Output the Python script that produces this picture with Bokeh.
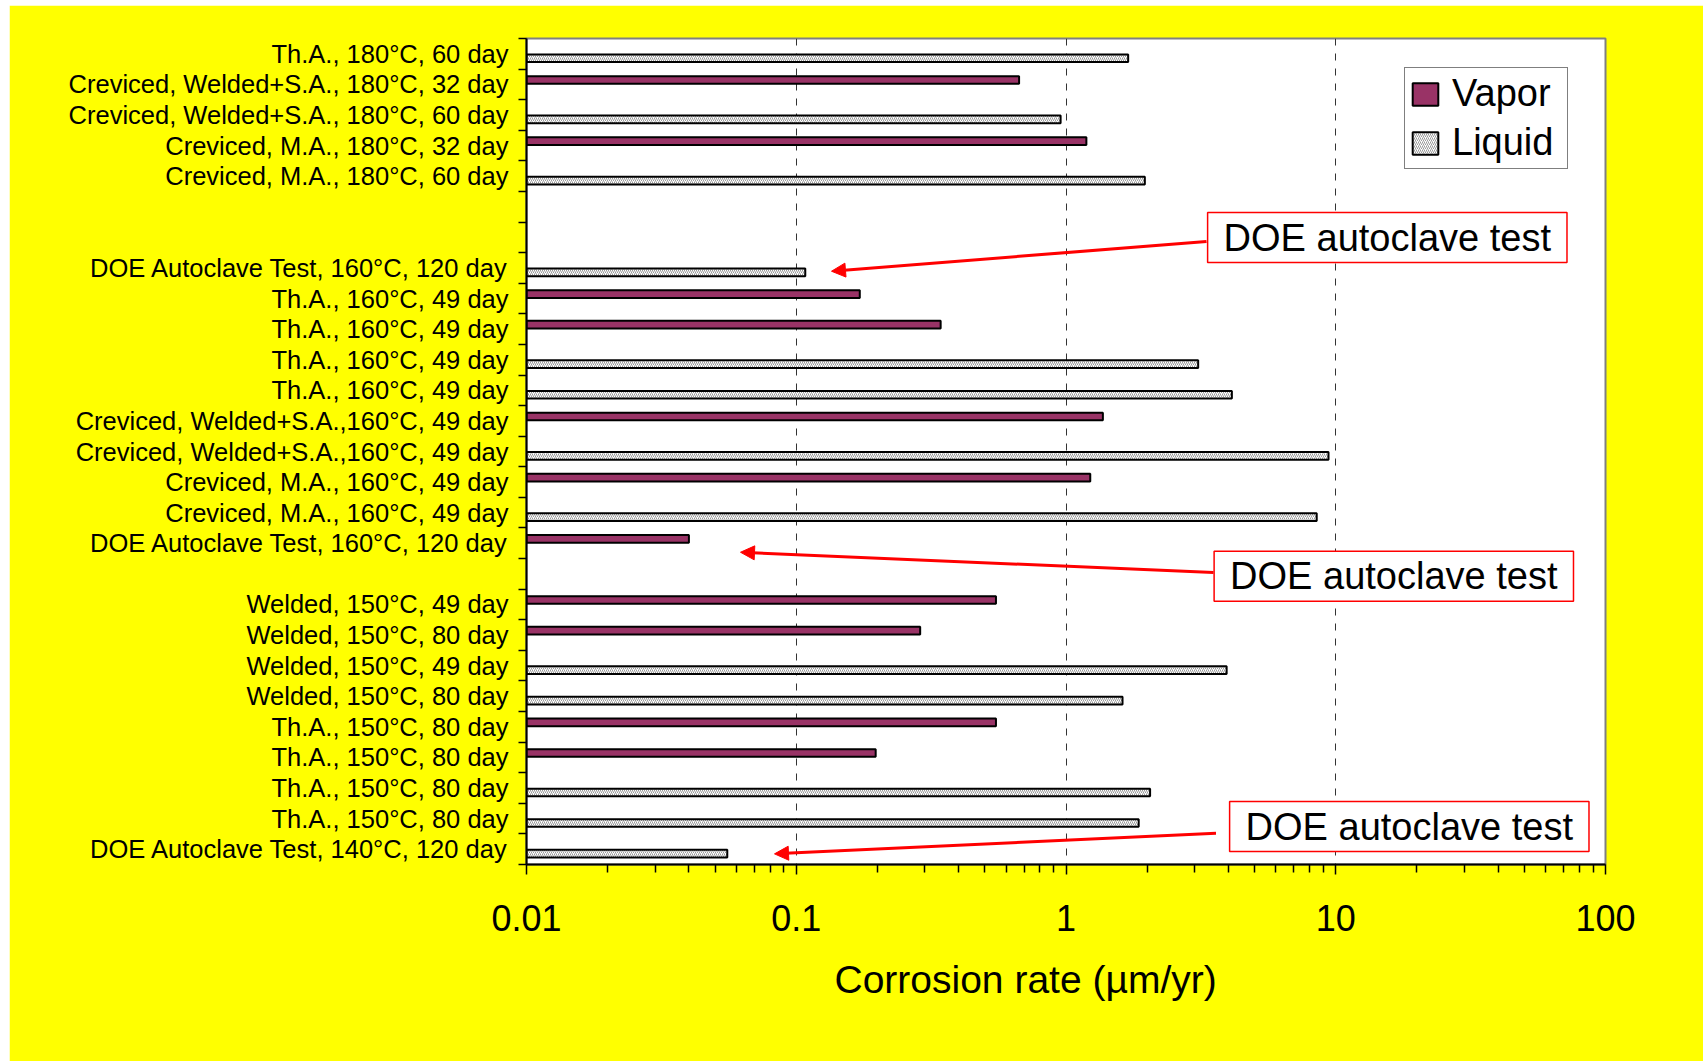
from bokeh.plotting import figure
from bokeh.models import (Range1d, FixedTicker, ColumnDataSource, Legend, LegendItem,
                          Label, Arrow, NormalHead, Title)
from bokeh.embed import file_html
from bokeh.resources import INLINE

# ---------------- data ----------------
categories = [
    "Th.A., 180°C, 60 day",
    "Creviced, Welded+S.A., 180°C, 32 day",
    "Creviced, Welded+S.A., 180°C, 60 day",
    "Creviced, M.A., 180°C, 32 day",
    "Creviced, M.A., 180°C, 60 day",
    "",
    "",
    "DOE Autoclave Test, 160°C, 120 day",
    "Th.A., 160°C, 49 day",
    "Th.A., 160°C, 49 day",
    "Th.A., 160°C, 49 day",
    "Th.A., 160°C, 49 day",
    "Creviced, Welded+S.A.,160°C, 49 day",
    "Creviced, Welded+S.A.,160°C, 49 day",
    "Creviced, M.A., 160°C, 49 day",
    "Creviced, M.A., 160°C, 49 day",
    "DOE Autoclave Test, 160°C, 120 day",
    "",
    "Welded, 150°C, 49 day",
    "Welded, 150°C, 80 day",
    "Welded, 150°C, 49 day",
    "Welded, 150°C, 80 day",
    "Th.A., 150°C, 80 day",
    "Th.A., 150°C, 80 day",
    "Th.A., 150°C, 80 day",
    "Th.A., 150°C, 80 day",
    "DOE Autoclave Test, 140°C, 120 day",
]

vapor = [None, 0.67, None, 1.19, None, None, None,
         None, 0.172, 0.343, None, None, 1.37, None, 1.23, None, 0.040,
         None,
         0.55, 0.288, None, None, 0.55, 0.197, None, None, None]

liquid = [1.70, None, 0.955, None, 1.96, None, None,
          0.108, None, None, 3.09, 4.12, None, 9.4, None, 8.5, None,
          None,
          None, None, 3.94, 1.62, None, None, 2.05, 1.86, 0.0555]

x_ticks = [0.01, 0.1, 1, 10, 100]
x_tick_labels = ["0.01", "0.1", "1", "10", "100"]
series_names = ["Vapor", "Liquid"]
annotation_text = "DOE autoclave test"
x_title = "Corrosion rate (µm/yr)"

FONT = "Liberation Sans"
n = len(categories)

# ---------------- figure ----------------
p = figure(width=1694, height=1056, x_axis_type="log",
           x_range=Range1d(0.01, 100), y_range=Range1d(n - 0.5, -0.5),
           output_backend="svg", toolbar_location=None,
           min_border_left=517, min_border_right=98,
           min_border_top=33, min_border_bottom=197,
           background_fill_color="white", border_fill_color="#FFFF00",
           outline_line_color="#808080", outline_line_width=2,
           margin=(5, 0, 0, 9))

# grid
p.ygrid.grid_line_color = None
p.xgrid.ticker = FixedTicker(ticks=[0.1, 1, 10])
p.xgrid.grid_line_color = "#333333"
p.xgrid.grid_line_dash = "7 8"
p.xgrid.grid_line_width = 1

# y axis
yax = p.yaxis[0]
yax.ticker = FixedTicker(ticks=[i for i, c in enumerate(categories) if c],
                         minor_ticks=[i - 0.5 for i in range(n + 1)])
yax.major_label_overrides = {i: c for i, c in enumerate(categories) if c}
yax.major_tick_line_color = None
yax.major_tick_out = 0
yax.major_tick_in = 0
yax.minor_tick_line_color = "black"
yax.minor_tick_line_width = 1.5
yax.minor_tick_out = 8
yax.minor_tick_in = 0
yax.axis_line_color = "black"
yax.axis_line_width = 2
yax.major_label_text_font = FONT
yax.major_label_text_font_size = "25.5px"
yax.major_label_text_color = "black"
yax.major_label_standoff = 10

# x axis
xax = p.xaxis[0]
xax.ticker = FixedTicker(ticks=x_ticks,
                         minor_ticks=[m * 10.0 ** e for e in (-2, -1, 0, 1) for m in range(2, 10)])
xax.major_label_overrides = dict(zip(x_ticks, x_tick_labels))
xax.major_tick_line_color = "black"
xax.major_tick_line_width = 1.5
xax.major_tick_out = 10
xax.major_tick_in = 0
xax.minor_tick_line_color = "black"
xax.minor_tick_line_width = 1.5
xax.minor_tick_out = 8
xax.minor_tick_in = 0
xax.axis_line_color = "black"
xax.axis_line_width = 2
xax.major_label_text_font = FONT
xax.major_label_text_font_size = "36px"
xax.major_label_text_color = "black"
xax.major_label_standoff = 30

# axis title (below the tick labels, shifted like the original)
p.add_layout(Title(text=x_title, align="left", offset=308, vertical_align="top",
                   standoff=49, text_font=FONT, text_font_size="39px",
                   text_font_style="normal", text_color="black"), "below")

# ---------------- bars ----------------
off = 0.145
src_v = ColumnDataSource(dict(
    y=[i - off for i, v in enumerate(vapor) if v is not None],
    right=[v for v in vapor if v is not None]))
src_l = ColumnDataSource(dict(
    y=[i + off for i, v in enumerate(liquid) if v is not None],
    right=[v for v in liquid if v is not None]))

rv = p.hbar(y="y", left=0.01, right="right", height=0.25, source=src_v,
            fill_color="#993366", line_color="black", line_width=2)
rl = p.hbar(y="y", left=0.01, right="right", height=0.25, source=src_l,
            fill_color="white", hatch_pattern="/", hatch_color="#9a9a9a",
            hatch_scale=4, hatch_weight=1, line_color="black", line_width=2)

legend = Legend(items=[LegendItem(label=series_names[0], renderers=[rv]),
                       LegendItem(label=series_names[1], renderers=[rl])],
                location=(878, 695), orientation="vertical",
                label_text_font=FONT, label_text_font_size="38px",
                label_text_color="black",
                glyph_width=32, glyph_height=28, label_standoff=11,
                label_width=111, padding=4, spacing=6, margin=0,
                border_line_color="black", border_line_width=1,
                background_fill_color="white", background_fill_alpha=1)
p.add_layout(legend)

# ---------------- annotations ----------------
def px_x(px):
    return 10 ** ((px - 526.0) / 269.75 - 2)

def px_y(py):
    return (py - 38.0) / 30.59 - 0.5

arrows = [((1206, 241), (831, 270.7)),
          ((1213, 572), (740, 551.7)),
          ((1215.5, 832.7), (774, 853.3))]
for (x0, y0), (x1, y1) in arrows:
    p.add_layout(Arrow(x_start=px_x(x0), y_start=px_y(y0),
                       x_end=px_x(x1), y_end=px_y(y1),
                       line_color="#FF0000", line_width=3,
                       end=NormalHead(size=14, fill_color="#FF0000",
                                      line_color="#FF0000", line_width=1)))

boxes = [(1386.8, 237), (1393.3, 575.7), (1408.8, 826)]
for bx, by in boxes:
    p.add_layout(Label(x=px_x(bx), y=px_y(by), text=annotation_text,
                       text_align="center", text_baseline="middle",
                       text_font=FONT, text_font_size="38px", text_color="black",
                       background_fill_color="white",
                       border_line_color="#FF0000", border_line_width=1.5,
                       padding=(16, 4)))

open("out.html", "w").write(file_html(p, INLINE))
